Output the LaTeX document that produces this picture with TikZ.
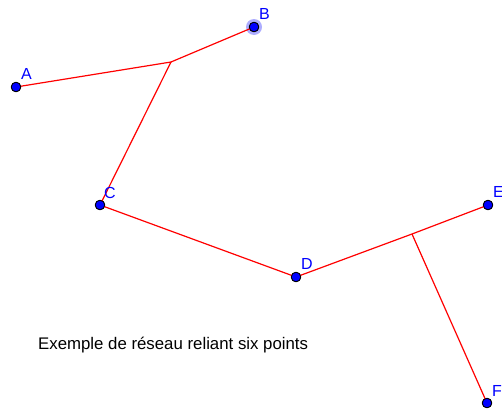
\documentclass[tikz,border=0pt]{standalone}
\usepackage{fontspec}
\setmainfont{Liberation Sans}
\begin{document}
\begin{tikzpicture}[x=1pt,y=-1pt,
  pt/.style={circle,draw=black,fill=blue,line width=0.8pt,inner sep=0pt,minimum size=9.5pt},
  lbl/.style={anchor=base west,inner sep=0pt,text=blue,font=\fontsize{16}{16}\selectfont},
  edge/.style={draw=red,line width=1.2pt}]
\useasboundingbox (0,0) rectangle (502,410);
\fill[blue!40,opacity=0.8] (254,27) circle (8);
\coordinate (S1) at (171,62);
\coordinate (S2) at (412,234);
\node[pt] (A) at (16,87) {};
\node[pt] (B) at (254,27) {};
\node[pt] (C) at (100,205) {};
\node[pt] (D) at (296,277) {};
\node[pt] (E) at (488,205) {};
\node[pt] (F) at (487,403) {};
\draw[edge] (A.center) -- (S1) -- (B.center);
\draw[edge] (S1) -- (C.center) -- (D.center) -- (S2) -- (E.center);
\draw[edge] (S2) -- (F.center);
\node[pt] at (A) {};
\node[pt] at (B) {};
\node[pt] at (C) {};
\node[pt] at (D) {};
\node[pt] at (E) {};
\node[pt] at (F) {};
\node[lbl] (lA) at (21,79) {A};
\node[lbl] (lB) at (259,19) {B};
\node[lbl] (lC) at (104,198) {C};
\node[lbl] (lD) at (301,269) {D};
\node[lbl] (lE) at (493,197) {E};
\node[lbl] (lF) at (492,396) {F};
\node[anchor=base west,inner sep=0pt,font=\fontsize{16.8}{16.8}\selectfont] (cap) at (38,349) {Exemple de réseau reliant six points};
\end{tikzpicture}
\end{document}
